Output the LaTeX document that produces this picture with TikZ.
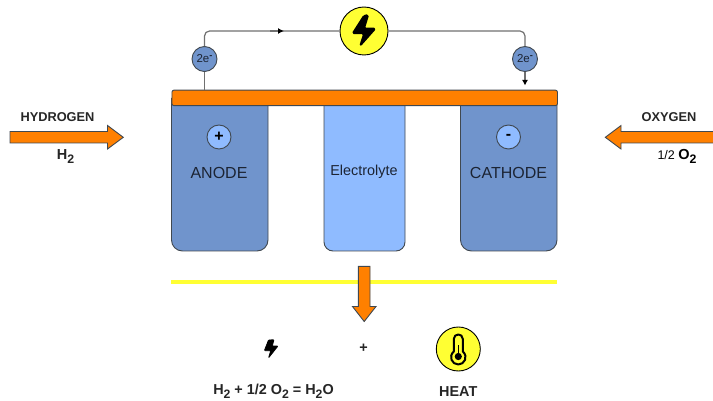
\documentclass[tikz,border=0pt]{standalone}
\usepackage{fontspec}
\setmainfont{Liberation Sans}
\usetikzlibrary{arrows.meta}
\definecolor{cellblue}{HTML}{7094CC}
\definecolor{electro}{HTML}{8FBBFF}
\definecolor{barorange}{HTML}{FF8000}
\definecolor{sunyellow}{HTML}{FFFF33}
\definecolor{edgegray}{HTML}{404850}
\definecolor{wiregray}{HTML}{707070}
\definecolor{inktext}{HTML}{1C2433}
\newcommand{\lowtwo}{\raisebox{-0.3em}{\scalebox{0.85}{2}}}
\newcommand{\elec}{2e\raisebox{0.38em}{\scalebox{0.8}{\bfseries -}}}
\tikzset{
  x=1pt,y=-1pt,
  cellbox/.style={draw=edgegray,line width=0.9pt,fill=cellblue,rounded corners=11pt},
  elecbox/.style={draw=edgegray,line width=0.9pt,fill=electro,rounded corners=9pt},
  orangefill/.style={draw=edgegray,line width=0.9pt,fill=barorange},
  wire/.style={draw=wiregray,line width=1.2pt},
  charge/.style={circle,draw=edgegray,line width=0.9pt,fill=cellblue,minimum size=25pt,inner sep=0pt,text=inktext,font=\fontsize{11.5}{11.5}\selectfont},
  polarity/.style={circle,draw=edgegray,line width=0.9pt,fill=electro,minimum size=24pt,inner sep=0pt,text=black,font=\fontsize{16}{16}\bfseries\selectfont},
  yellowdisc/.style={circle,draw=black,line width=0.9pt,fill=sunyellow,inner sep=0pt},
  plainlabel/.style={inner sep=0pt,text=inktext,font=\fontsize{16}{16}\selectfont},
  boldlabel/.style={inner sep=0pt,text=black!85,font=\fontsize{12.8}{12.8}\bfseries\selectfont},
  boldbig/.style={inner sep=0pt,text=black!85,font=\fontsize{14.4}{14.4}\bfseries\selectfont},
}
\begin{document}
\begin{tikzpicture}
\useasboundingbox (0,0) rectangle (713,401);
% cells (square tops are hidden by the bar)
\draw[cellbox] (171.5,98) -- (171.5,251) -- (268,251) -- (268,98);
\draw[cellbox] (460.5,98) -- (460.5,251) -- (557,251) -- (557,98);
\draw[elecbox] (324,98) -- (324,251) -- (405,251) -- (405,98);
\node[plainlabel,font=\fontsize{14.4}{14.4}\selectfont] (electrolyte) at (364,172) {Electrolyte};
\node[plainlabel] (anode) at (219,173) {ANODE};
\node[plainlabel] (cathode) at (508.5,173) {CATHODE};
\node[polarity] (plus) at (219,137) {+};
\node[polarity] (minus) at (508.5,137) {\raisebox{-2.5pt}{-}};
% top bar
\node[orangefill,rounded corners=2pt,minimum width=385.5pt,minimum height=15.5pt,inner sep=0pt,anchor=north west] (bar) at (171.5,89.7) {};
% circuit
\node[yellowdisc,minimum size=48pt] (source) at (364,31) {};
\node[charge] (eleft) at (204.5,59) {\elec};
\node[charge] (eright) at (525,59) {\elec};
\coordinate (barleft) at (bar.north -| eleft);
\coordinate (tipright) at (525,85.5);
\coordinate (midstart) at (270,31);
\coordinate (midarrow) at (284,31);
\draw[wire] (barleft) -- (eleft);
\draw[wire,rounded corners=5pt] (eleft) |- (source);
\draw[wire,rounded corners=5pt] (source) -| (eright);
\draw[wire,-{Latex[length=5.5pt,width=6pt,black]}] (eright) -- (tipright);
\draw[wire,-{Latex[length=6pt,width=6pt,black]}] (midstart) -- (midarrow);
\fill[black,draw=black,line width=1.5pt,line join=round,rounded corners=1.5pt]
  (368.3,15) -- (364.2,28.5) -- (375.5,28.5) -- (360,46) -- (364,33.5) -- (352.5,33.5) -- (364,15.5) -- cycle;
% side arrows
\draw[orangefill,line join=miter] (10,131.5) -- (107.5,131.5) -- (107.5,125.5) -- (123.3,137.3) -- (107.5,149) -- (107.5,143) -- (10,143) -- cycle;
\draw[orangefill,line join=miter] (714,131.5) -- (621,131.5) -- (621,125.5) -- (605.3,137.3) -- (621,149) -- (621,143) -- (714,143) -- cycle;
\node[boldlabel] (hydrogen) at (57.5,117) {HYDROGEN};
\node[boldlabel] (htwo) at (65.5,156.5) {\fontsize{14.5}{14.5}\selectfont H\lowtwo};
\node[boldlabel] (oxygen) at (669,117) {OXYGEN};
\node[boldlabel,text=black] (otwo) at (677,156.5) {\fontsize{12.5}{12.5}\mdseries\selectfont 1/2 \fontsize{14.5}{14.5}\bfseries\selectfont O\lowtwo};
% heat line and down arrow
\draw[sunyellow,line width=4pt] (171,282) -- (557,282);
\draw[orangefill,line join=miter] (358.3,266.3) -- (370,266.3) -- (370,306.5) -- (376,306.5) -- (364.2,321.5) -- (352.5,306.5) -- (358.3,306.5) -- cycle;
% products
\fill[black,draw=black,line width=0.7pt,line join=round,rounded corners=0.8pt]
  (274,339.7) -- (272.3,346) -- (278,346) -- (268.5,358) -- (270.7,350.7) -- (264.3,350.7) -- (268.5,340) -- cycle;
\node[boldbig] (plussign) at (363.5,348) {+};
\node[yellowdisc,minimum size=44pt] (heatdisc) at (458.3,349) {};
\draw[black,line width=2pt,line join=round]
  (453.8,351.5) -- (453.8,339) .. controls (453.8,333) and (462.8,333) .. (462.8,339) -- (462.8,351.5)
  .. controls (468.5,356.5) and (464.5,364.5) .. (458.3,364.5)
  .. controls (452,364.5) and (448.1,356.5) .. (453.8,351.5) -- cycle;
\fill[black] (458.3,356.5) circle[radius=3.6];
\draw[black,line width=1.6pt] (458.3,345) -- (458.3,356);
\node[boldbig] (equation) at (273.5,391) {H\lowtwo{} + 1/2 O\lowtwo{} = H\lowtwo{}O};
\node[boldbig] (heat) at (458.3,392) {HEAT};
\end{tikzpicture}
\end{document}
